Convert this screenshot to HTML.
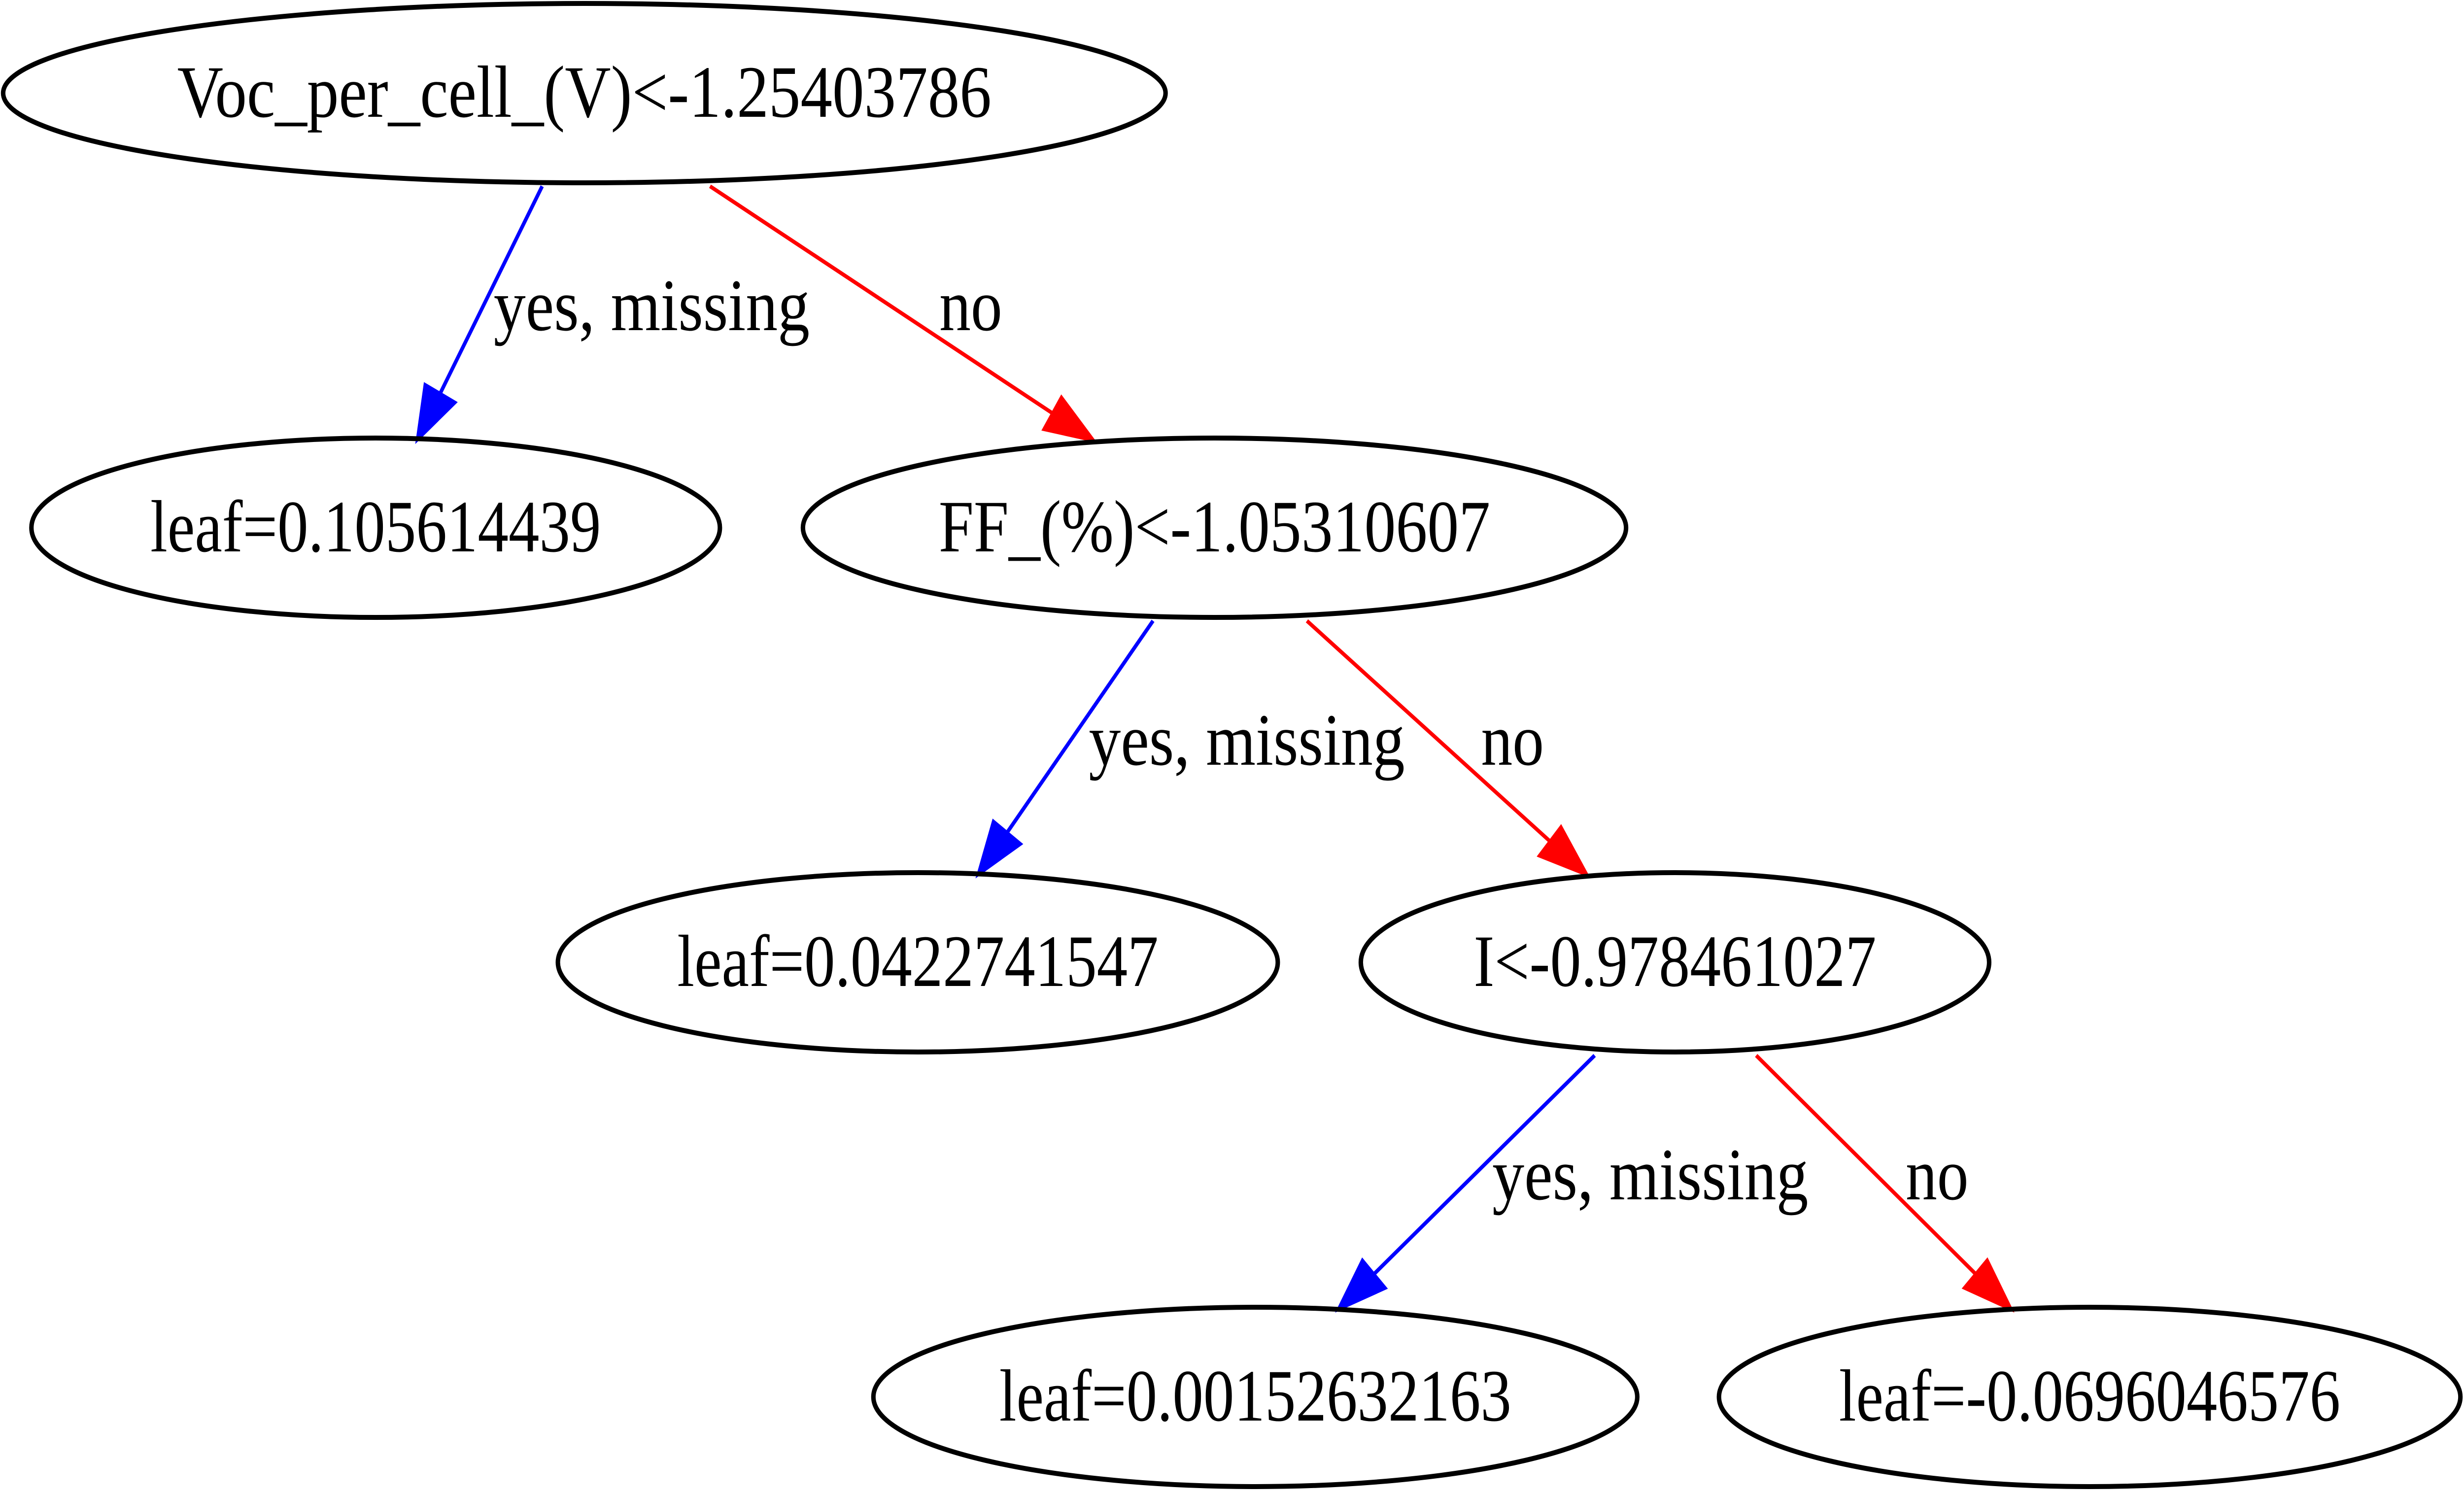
<!DOCTYPE html>
<html><head><meta charset="utf-8"><style>
html,body{margin:0;padding:0;background:#fff;overflow:hidden;width:100%;height:100%;}
svg{display:block;width:100vw;height:100vh;}
text{font-family:"Liberation Serif","DejaVu Serif",serif;font-size:150px;fill:#000;}
</style></head><body>
<svg id="tree" viewBox="0 0 5490 3030" preserveAspectRatio="none" xmlns="http://www.w3.org/2000/svg">
<rect width="5490" height="3030" fill="#fff"/>
</svg>
<script>
const nodeLabels = ["Voc_per_cell_(V)<-1.25403786","leaf=0.105614439","FF_(%)<-1.05310607","leaf=0.0422741547","I<-0.978461027","leaf=0.00152632163","leaf=-0.0696046576"];
const nodeNames = ["root-node","leaf-node-1","ff-split-node","leaf-node-2","i-split-node","leaf-node-3","leaf-node-4"];
const nodeCx = [1302,837,2706,2045,3732,2797,4656];
const nodeRow = [0,1,1,2,2,3,3];
const nodeRx = [1295,767,917,802,700,851,826];
const nodeTextW = [1814,1004,1229,1072,897,1141,1117];
const edgeFrom = [0,0,2,2,4,4];
const edgeTo = [1,2,3,4,5,6];
const edgeLabels = ["yes, missing","no","yes, missing","no","yes, missing","no"];
const edgeStartX = [1208,1582,2569,2912,3553,3913];
const edgeEndX = [928,2440,2177,3539,2979,4484];
const edgeLabelX = [1100,2093,2426,3300,3325,4246];

const NS="http://www.w3.org/2000/svg";
const svg=document.getElementById('tree');
const rowY=r=>189+r*882;
const RY=182;
function mk(t,a){const e=document.createElementNS(NS,t);for(const k in a)e.setAttribute(k,a[k]);return e;}

for(let i=0;i<edgeFrom.length;i++){
  const isYes=edgeLabels[i].startsWith('yes');
  const col=isYes?'#0000ff':'#ff0000';
  const x1=edgeStartX[i], y1=rowY(nodeRow[edgeFrom[i]])+RY+7;
  const x2=edgeEndX[i], y2=rowY(nodeRow[edgeTo[i]])-RY+7;
  const dx=x2-x1, dy=y2-y1, L=Math.hypot(dx,dy), ux=dx/L, uy=dy/L;
  const al=112, aw=40;
  const bx=x2-ux*al, by=y2-uy*al;
  const g=mk('g',{});
  
  
  g.appendChild(mk('line',{x1:x1,y1:y1,x2:bx,y2:by,stroke:col,'stroke-width':8}));
  g.appendChild(mk('polygon',{points:`${x2},${y2} ${bx-uy*aw},${by+ux*aw} ${bx+uy*aw},${by-ux*aw}`,fill:col,stroke:col,'stroke-width':4}));
  svg.appendChild(g);
  const t=mk('text',{x:edgeLabelX[i],y:rowY(nodeRow[edgeFrom[i]])+481,textLength:isYes?704:140,lengthAdjust:'spacingAndGlyphs'});
  t.textContent=edgeLabels[i];
  
  
  svg.appendChild(t);
}
for(let i=0;i<nodeLabels.length;i++){
  const cy=rowY(nodeRow[i]);
  const g=mk('g',{});
  
  
  g.appendChild(mk('ellipse',{cx:nodeCx[i],cy:cy,rx:nodeRx[i],ry:RY,fill:'none',stroke:'#000','stroke-width':10}));
  const t=mk('text',{x:nodeCx[i],y:cy+48,'text-anchor':'middle',textLength:nodeTextW[i],lengthAdjust:'spacingAndGlyphs'});
  t.textContent=nodeLabels[i];
  
  
  g.appendChild(t);
  svg.appendChild(g);
}
</script>
</body></html>
